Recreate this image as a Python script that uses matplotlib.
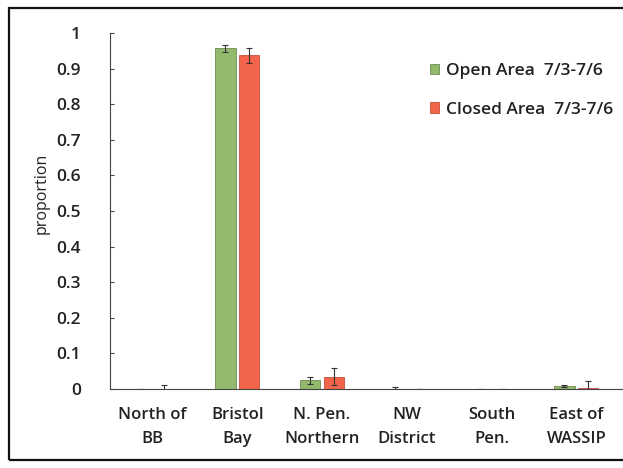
import numpy as np
import matplotlib
matplotlib.use("Agg")
import matplotlib.pyplot as plt
from matplotlib.patches import Rectangle

# data
regions = ["North of\nBB", "Bristol\nBay", "N. Pen.\nNorthern", "NW\nDistrict", "South\nPen.", "East of\nWASSIP"]
open_vals = [0.0, 0.957, 0.025, 0.0, 0.0, 0.008]
open_err = [0.0, 0.010, 0.010, 0.007, 0.0, 0.003]
closed_vals = [0.0, 0.937, 0.035, 0.0, 0.0, 0.004]
closed_err = [0.010, 0.022, 0.025, 0.0, 0.0, 0.018]
yticks = [0, 0.1, 0.2, 0.3, 0.4, 0.5, 0.6, 0.7, 0.8, 0.9, 1]
ytick_labels = ["0", "0.1", "0.2", "0.3", "0.4", "0.5", "0.6", "0.7", "0.8", "0.9", "1"]

plt.rcParams['font.family'] = ['Open Sans', 'DejaVu Sans']

fig = plt.figure(figsize=(6.23, 4.68), dpi=100)
ax = fig.add_axes([0.1766, 0.1688, 0.8234, 0.7607])

x = np.arange(len(regions))
w = 0.24
ax.bar(x - 0.14, open_vals, w, color='#93ba6c', edgecolor='#6f8a55', linewidth=0.6,
       yerr=open_err, error_kw=dict(ecolor='#333333', elinewidth=0.8, capsize=2.5, capthick=0.8),
       label='Open Area  7/3-7/6')
ax.bar(x + 0.14, closed_vals, w, color='#f2654b', edgecolor='#c8503a', linewidth=0.6,
       yerr=closed_err, error_kw=dict(ecolor='#333333', elinewidth=0.8, capsize=2.5, capthick=0.8),
       label='Closed Area  7/3-7/6')

ax.set_xlim(-0.5, 5.55)
ax.set_ylim(0, 1)
ax.set_yticks(yticks)
ax.set_yticklabels(ytick_labels, fontsize=12.5, fontweight='semibold', color='#222222')
ax.set_xticks(x)
ax.set_xticklabels(regions, fontsize=12, fontweight='semibold', color='#222222', linespacing=1.65)
ax.tick_params(axis='x', length=0, pad=13)
ax.tick_params(axis='y', direction='in', length=3, width=0.8, pad=21, color='#444444')
ax.spines['top'].set_visible(False)
ax.spines['right'].set_visible(False)
ax.spines['left'].set_color('#444444')
ax.spines['bottom'].set_color('#444444')
ax.set_ylabel('proportion', fontsize=11.5, color='#222222')
ax.yaxis.set_label_coords(-0.118, 0.55)

leg = ax.legend(loc='upper left', bbox_to_anchor=(0.61, 0.935), frameon=False, fontsize=12.5,
                handlelength=0.55, handleheight=0.55, handletextpad=0.4, labelspacing=1.3,
                borderaxespad=0)
for t in leg.get_texts():
    t.set_fontweight('semibold')
    t.set_color('#222222')

# scanned figure border
fig.patches.append(Rectangle((9 / 623, 8 / 468), 1.2, 452 / 468, transform=fig.transFigure,
                             fill=False, edgecolor='#111111', linewidth=1.6))

fig.savefig('out.png', dpi=100)
